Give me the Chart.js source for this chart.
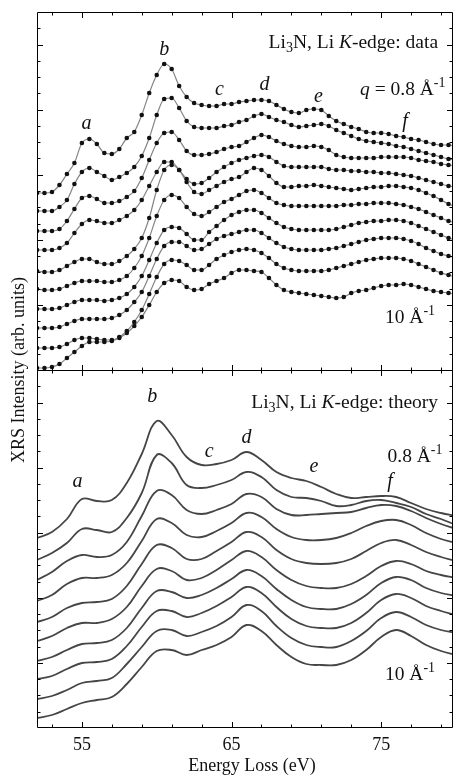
<!DOCTYPE html>
<html>
<head>
<meta charset="utf-8">
<script src="https://cdn.jsdelivr.net/npm/chart.js@4.4.1/dist/chart.umd.min.js"></script>
<style>
  html, body { margin: 0; padding: 0; background: #fff; }
  canvas { display: block; }
</style>
</head>
<body>
<canvas id="chart" width="457" height="779"></canvas>
<script>
// energy grid of the measured spectra (one dot every 0.5 eV)
const expEnergy = [52, 52.5, 53, 53.5, 54, 54.5, 55, 55.5, 56, 56.5, 57, 57.5, 58, 58.5, 59, 59.5,
  60, 60.5, 61, 61.5, 62, 62.5, 63, 63.5, 64, 64.5, 65, 65.5, 66, 66.5, 67, 67.5, 68, 68.5, 69, 69.5,
  70, 70.5, 71, 71.5, 72, 72.5, 73, 73.5, 74, 74.5, 75, 75.5, 76, 76.5, 77, 77.5, 78, 78.5, 79, 79.5, 80];
// energy grid of the calculated spectra
const calcEnergy = [52, 53, 54, 55, 56, 57, 58, 59, 60, 61, 62, 63, 64, 65, 66, 67, 68, 69, 70,
  71, 72, 73, 74, 75, 76, 77, 78, 79, 80];

// measured spectra, offset, q = 0.8 (top) ... 10 (bottom)
const exp1 = [53.5, 53.5, 53.6, 54.3, 55.4, 56.5, 58.5, 58.9, 58.4, 57.5, 57.4, 57.9, 59.0, 59.6, 61.3, 63.5, 65.3, 66.4, 65.9, 64.2,
  63.1, 62.5, 62.3, 62.2, 62.2, 62.4, 62.4, 62.6, 62.7, 62.8, 62.8, 62.7, 62.3, 61.9, 61.6, 61.5, 61.8, 61.9, 61.8, 61.2,
  60.7, 60.4, 60.1, 59.9, 59.6, 59.5, 59.5, 59.4, 59.2, 59.1, 58.9, 58.8, 58.6, 58.4, 58.3, 58.3, 58.2];
const exp2 = [51.7, 51.7, 51.7, 52.1, 52.8, 54.4, 55.6, 56.0, 55.6, 55.2, 54.8, 55.1, 55.5, 56.1, 57.2, 59.0, 61.3, 62.9, 63.0, 62.0,
  60.7, 60.1, 60.0, 60.0, 60.0, 60.2, 60.3, 60.6, 60.8, 61.2, 61.4, 61.1, 60.8, 60.6, 60.3, 60.1, 60.2, 60.3, 60.4, 60.2,
  59.8, 59.5, 59.2, 58.9, 58.7, 58.6, 58.5, 58.4, 58.2, 58.1, 57.9, 57.7, 57.5, 57.3, 57.1, 56.9, 56.8];
const exp3 = [49.7, 49.7, 49.7, 49.9, 50.7, 51.9, 53.0, 53.2, 52.9, 52.5, 52.5, 52.7, 53.1, 53.7, 55.0, 56.8, 58.5, 59.5, 59.6, 58.8,
  57.7, 57.3, 57.3, 57.4, 57.6, 57.9, 58.1, 58.2, 58.6, 59.0, 59.3, 59.1, 58.7, 58.4, 58.2, 58.1, 58.1, 58.2, 58.1, 57.8,
  57.3, 57.1, 57.0, 57.0, 57.0, 57.0, 57.1, 57.1, 57.1, 57.1, 57.0, 56.8, 56.7, 56.6, 56.4, 56.3, 56.2];
const exp4 = [47.8, 47.8, 47.8, 48.0, 48.5, 49.5, 50.4, 50.8, 50.7, 50.5, 50.5, 50.8, 51.2, 51.8, 52.8, 54.2, 55.6, 56.6, 56.6, 55.8,
  54.9, 54.4, 54.5, 55.0, 55.6, 56.1, 56.5, 56.8, 57.0, 57.2, 57.3, 57.1, 56.6, 56.2, 56.1, 56.1, 56.1, 56.1, 56.1, 55.9,
  55.8, 55.8, 55.7, 55.7, 55.6, 55.6, 55.5, 55.5, 55.4, 55.3, 55.2, 55.0, 54.8, 54.6, 54.4, 54.2, 54.1];
const exp5 = [45.7, 45.6, 45.6, 45.8, 46.2, 46.6, 46.9, 46.9, 46.6, 46.4, 46.4, 46.7, 47.2, 47.9, 49.0, 51.0, 53.8, 55.8, 56.3, 55.8,
  54.6, 53.6, 53.4, 53.8, 54.2, 54.6, 54.9, 55.1, 55.6, 56.0, 55.8, 55.2, 54.5, 54.1, 54.1, 54.2, 54.2, 54.3, 54.2, 54.1,
  54.0, 53.9, 53.8, 53.9, 54.0, 54.1, 54.1, 54.2, 54.2, 54.1, 54.0, 53.8, 53.5, 53.2, 52.8, 52.4, 52.1];
const exp6 = [43.9, 43.8, 43.8, 43.9, 44.2, 44.5, 44.7, 44.7, 44.7, 44.6, 44.6, 44.8, 45.2, 46.0, 47.2, 49.0, 51.2, 52.8, 53.3, 53.0,
  52.1, 51.4, 51.2, 51.6, 52.1, 52.6, 52.9, 53.3, 53.7, 53.8, 53.5, 53.0, 52.5, 52.3, 52.2, 52.2, 52.2, 52.2, 52.2, 52.2,
  52.2, 52.3, 52.3, 52.4, 52.4, 52.5, 52.5, 52.5, 52.4, 52.3, 52.1, 51.9, 51.6, 51.3, 51.0, 50.7, 50.5];
const exp7 = [41.9, 41.9, 41.9, 42.0, 42.3, 42.6, 42.8, 42.8, 42.8, 42.7, 42.8, 43.0, 43.4, 44.1, 45.2, 46.8, 48.5, 49.8, 50.1, 50.0,
  49.4, 48.8, 48.8, 49.6, 50.2, 50.8, 51.3, 51.6, 51.8, 51.8, 51.5, 51.0, 50.5, 50.1, 49.9, 49.8, 49.8, 49.8, 49.8, 49.8,
  49.9, 50.1, 50.3, 50.5, 50.6, 50.7, 50.7, 50.8, 50.8, 50.7, 50.5, 50.2, 49.9, 49.6, 49.3, 49.0, 48.8];
const exp8 = [40.0, 40.0, 40.0, 40.1, 40.4, 40.7, 40.9, 40.9, 40.9, 40.9, 41.0, 41.3, 41.8, 42.6, 43.6, 45.2, 46.9, 48.2, 48.6, 48.6,
  48.2, 47.8, 47.9, 48.4, 48.9, 49.2, 49.4, 49.6, 49.8, 49.8, 49.5, 49.0, 48.5, 48.1, 47.9, 47.8, 47.8, 47.8, 47.8, 47.9,
  48.0, 48.2, 48.4, 48.6, 48.8, 48.9, 49.0, 49.0, 49.0, 48.9, 48.7, 48.4, 48.0, 47.7, 47.4, 47.2, 47.0];
const exp9 = [38.0, 38.0, 38.0, 38.1, 38.4, 38.8, 39.0, 39.0, 38.9, 38.8, 38.8, 39.1, 39.7, 40.6, 41.8, 43.4, 45.1, 46.4, 46.8, 46.7,
  46.3, 45.8, 45.8, 46.3, 46.9, 47.3, 47.6, 47.8, 47.9, 47.8, 47.5, 47.0, 46.4, 46.0, 45.8, 45.7, 45.7, 45.7, 45.7, 45.8,
  46.0, 46.2, 46.4, 46.6, 46.8, 46.9, 47.0, 47.0, 47.0, 46.9, 46.7, 46.4, 46.1, 45.8, 45.5, 45.3, 45.1];
const exp10 = [36.0, 36.0, 36.1, 36.4, 37.0, 37.6, 38.2, 38.6, 38.6, 38.6, 38.7, 39.0, 39.5, 40.2, 41.1, 42.3, 43.6, 44.5, 44.8, 44.7,
  44.1, 43.8, 43.9, 44.4, 44.7, 45.0, 45.5, 45.8, 45.8, 45.7, 45.6, 45.0, 44.3, 43.8, 43.6, 43.5, 43.4, 43.3, 43.2, 43.1,
  43.0, 43.1, 43.5, 43.7, 43.8, 44.0, 44.2, 44.3, 44.3, 44.4, 44.3, 44.1, 43.9, 43.7, 43.6, 43.5, 43.4];

// calculated spectra, offset, same q order
const calc1 = [19.0, 19.6, 20.9, 22.9, 22.7, 22.8, 24.5, 27.4, 30.7, 29.3, 27.1, 26.3, 26.4, 26.8, 27.6, 26.8, 25.6, 25.0, 24.7,
  24.1, 23.4, 23.0, 23.1, 23.2, 23.1, 22.5, 21.9, 21.5, 21.2];
const calc2 = [16.8, 17.5, 18.5, 19.9, 19.8, 19.6, 21.0, 23.5, 27.3, 26.5, 24.3, 24.0, 24.3, 24.8, 25.6, 25.1, 23.8, 23.1, 23.0,
  22.7, 22.2, 22.3, 22.7, 22.8, 22.5, 22.1, 21.4, 20.9, 20.3];
const calc3 = [14.8, 15.6, 16.7, 17.3, 17.1, 17.3, 18.6, 21.2, 23.7, 23.3, 21.8, 21.4, 21.8, 22.4, 23.4, 23.1, 21.9, 21.3, 21.3,
  21.4, 21.5, 21.6, 22.0, 22.3, 22.2, 21.7, 21.0, 20.4, 19.9];
const calc4 = [12.7, 13.3, 14.4, 15.0, 15.0, 15.3, 16.5, 18.7, 20.9, 20.5, 19.3, 19.1, 19.7, 20.5, 21.5, 21.1, 19.9, 19.1, 18.8,
  18.8, 19.0, 19.5, 20.2, 20.7, 20.8, 20.3, 19.5, 18.9, 18.5];
const calc5 = [10.6, 11.1, 12.0, 12.5, 12.6, 12.9, 14.2, 16.4, 18.3, 18.0, 16.9, 16.9, 17.7, 18.6, 19.6, 19.1, 17.8, 16.9, 16.5,
  16.4, 16.5, 16.9, 17.7, 18.5, 18.8, 18.3, 17.6, 17.1, 16.7];
const calc6 = [8.7, 9.2, 10.0, 10.5, 10.5, 10.9, 12.1, 14.2, 15.9, 15.7, 14.8, 15.0, 15.8, 16.8, 17.7, 17.1, 15.8, 14.8, 14.2,
  14.0, 14.0, 14.4, 15.2, 16.2, 16.7, 16.4, 15.7, 15.3, 15.0];
const calc7 = [6.7, 7.1, 7.8, 8.4, 8.5, 8.8, 10.0, 12.0, 13.7, 13.6, 13.0, 13.3, 14.0, 14.9, 15.8, 15.2, 13.9, 12.8, 12.1,
  11.9, 11.9, 12.4, 13.3, 14.5, 15.1, 14.8, 14.0, 13.5, 13.2];
const calc8 = [4.9, 5.2, 5.9, 6.5, 6.6, 6.9, 8.2, 10.1, 11.7, 11.7, 11.1, 11.5, 12.2, 13.1, 14.1, 13.5, 12.1, 10.9, 10.2,
  10.0, 10.0, 10.5, 11.5, 12.8, 13.4, 13.0, 12.2, 11.7, 11.3];
const calc9 = [2.9, 3.2, 3.8, 4.5, 4.7, 5.0, 6.4, 8.1, 9.7, 9.8, 9.2, 9.6, 10.2, 11.1, 12.3, 11.7, 10.2, 9.0, 8.3,
  8.1, 8.1, 8.7, 9.7, 11.0, 11.6, 11.1, 10.3, 9.8, 9.5];
const calc10 = [1.0, 1.3, 1.9, 2.5, 2.8, 3.1, 4.4, 6.1, 7.7, 7.8, 7.3, 7.8, 8.3, 9.1, 10.3, 9.7, 8.3, 7.1, 6.4,
  6.3, 6.3, 6.8, 7.8, 9.1, 9.8, 9.2, 8.3, 7.7, 7.3];

// x ticks (only majors have labels)
const xMajor = [55, 65, 75];
const xMinor = [53, 57, 59, 61, 63, 67, 69, 71, 73, 77, 79];
const peakNames = ['a', 'b', 'c', 'd', 'e', 'f'];

const expRows = [exp1, exp2, exp3, exp4, exp5, exp6, exp7, exp8, exp9, exp10];
const calcRows = [calc1, calc2, calc3, calc4, calc5, calc6, calc7, calc8, calc9, calc10];

const SERIF = '"Liberation Serif", "DejaVu Serif", serif';
const yMax = 71.6;      // two panels stacked on one axis
const panelSplit = 35.8;

const datasets = [];
expRows.forEach((row, i) => datasets.push({
  label: 'data ' + (i + 1),
  data: row.map((v, k) => ({ x: expEnergy[k], y: v })),
  borderColor: '#858585',
  borderWidth: 1.2,
  pointRadius: 2.3,
  pointBackgroundColor: '#111',
  pointBorderWidth: 0,
  cubicInterpolationMode: 'monotone'
}));
calcRows.forEach((row, i) => datasets.push({
  label: 'theory ' + (i + 1),
  data: row.map((v, k) => ({ x: calcEnergy[k], y: v })),
  borderColor: '#454545',
  borderWidth: 1.8,
  pointRadius: 0,
  tension: 0.4
}));

// text with sub / superscripts and italics
function richText(ctx, parts, x, y, align, size) {
  const small = Math.round(size * 0.72);
  const fonts = parts.map(p => (p.i ? 'italic ' : '') + (p.s ? small : size) + 'px ' + SERIF);
  let w = 0;
  parts.forEach((p, k) => { ctx.font = fonts[k]; w += ctx.measureText(p.t).width; });
  let cx = align === 'right' ? x - w : align === 'center' ? x - w / 2 : x;
  parts.forEach((p, k) => {
    ctx.font = fonts[k];
    const dy = p.s === 'sub' ? 5 : p.s === 'sup' ? -7 : 0;
    ctx.fillText(p.t, cx, y + dy);
    cx += ctx.measureText(p.t).width;
  });
}

const panelTitle = kind => [{ t: 'Li' }, { t: '3', s: 'sub' }, { t: 'N, Li ' }, { t: 'K', i: true }, { t: '-edge: ' + kind }];
const qText = v => [{ t: v + ' Å' }, { t: '-1', s: 'sup' }];

// annotations, in data coordinates
const notes = [
  { parts: panelTitle('data'), x: 78.8, y: 68.5 },
  { parts: [{ t: 'q', i: true }, { t: ' = 0.8 Å' }, { t: '-1', s: 'sup' }], x: 79.3, y: 63.8 },
  { parts: qText('10'), x: 78.6, y: 41.0 },
  { parts: panelTitle('theory'), x: 78.8, y: 32.5 },
  { parts: qText('0.8'), x: 79.1, y: 27.1 },
  { parts: qText('10'), x: 78.6, y: 5.3 }
];
const letterPos = [
  [55.3, 60.4], [60.5, 67.8], [64.2, 63.8], [67.2, 64.3], [70.8, 63.1], [76.6, 60.6],
  [54.7, 24.6], [59.7, 33.1], [63.5, 27.6], [66.0, 29.0], [70.5, 26.1], [75.6, 24.6]
];

const frame = {
  id: 'frame',
  afterDraw(chart) {
    const { ctx, chartArea: a, scales: { x, y } } = chart;
    const L = a.left + 0.5, R = a.right - 0.5, T = a.top + 0.5, B = a.bottom - 0.5;
    const M = Math.round(y.getPixelForValue(panelSplit)) + 0.5;
    ctx.save();
    ctx.strokeStyle = '#000';
    ctx.lineWidth = 1;
    ctx.beginPath();
    ctx.rect(L, T, R - L, B - T);
    ctx.moveTo(L, M); ctx.lineTo(R, M);
    // x ticks, pointing inwards on every horizontal line
    const xt = (v, len) => {
      const px = Math.round(x.getPixelForValue(v)) + 0.5;
      ctx.moveTo(px, T); ctx.lineTo(px, T + len);
      ctx.moveTo(px, M - len); ctx.lineTo(px, M + len);
      ctx.moveTo(px, B); ctx.lineTo(px, B - len);
    };
    xMajor.forEach(v => xt(v, 5.5));
    xMinor.forEach(v => xt(v, 3));
    // y ticks, 22 steps per panel, long every 4
    [0, panelSplit].forEach(base => {
      for (let k = 1; k < 22; k++) {
        const py = Math.round(y.getPixelForValue(base + k * panelSplit / 22)) + 0.5;
        const len = k % 4 === 0 ? 5.5 : 3;
        ctx.moveTo(L, py); ctx.lineTo(L + len, py);
        ctx.moveTo(R, py); ctx.lineTo(R - len, py);
      }
    });
    ctx.stroke();

    ctx.fillStyle = '#111';
    ctx.textBaseline = 'middle';
    ctx.textAlign = 'left';
    notes.forEach(n => richText(ctx, n.parts, x.getPixelForValue(n.x), y.getPixelForValue(n.y), 'right', 19.5));
    letterPos.forEach((p, k) => richText(ctx, [{ t: peakNames[k % 6], i: true }],
      x.getPixelForValue(p[0]), y.getPixelForValue(p[1]), 'center', 20));

    // axis labels
    ctx.textAlign = 'center';
    ctx.font = '18px ' + SERIF;
    xMajor.forEach(v => ctx.fillText(String(v), x.getPixelForValue(v), a.bottom + 17));
    ctx.fillText('Energy Loss (eV)', (a.left + a.right) / 2 + 7, a.bottom + 38);
    ctx.translate(19, (a.top + a.bottom) / 2);
    ctx.rotate(-Math.PI / 2);
    ctx.fillText('XRS Intensity (arb. units)', 0, 0);
    ctx.restore();
  }
};

new Chart(document.getElementById('chart'), {
  type: 'line',
  data: { datasets },
  options: {
    responsive: false,
    devicePixelRatio: 1,
    animation: false,
    layout: { padding: { left: 37, right: 1.5, top: 12, bottom: 51 } },
    plugins: { legend: { display: false }, tooltip: { enabled: false } },
    scales: {
      x: { type: 'linear', min: 52, max: 79.8, display: false },
      y: { type: 'linear', min: 0, max: yMax, display: false }
    }
  },
  plugins: [frame]
});
</script>
</body>
</html>
